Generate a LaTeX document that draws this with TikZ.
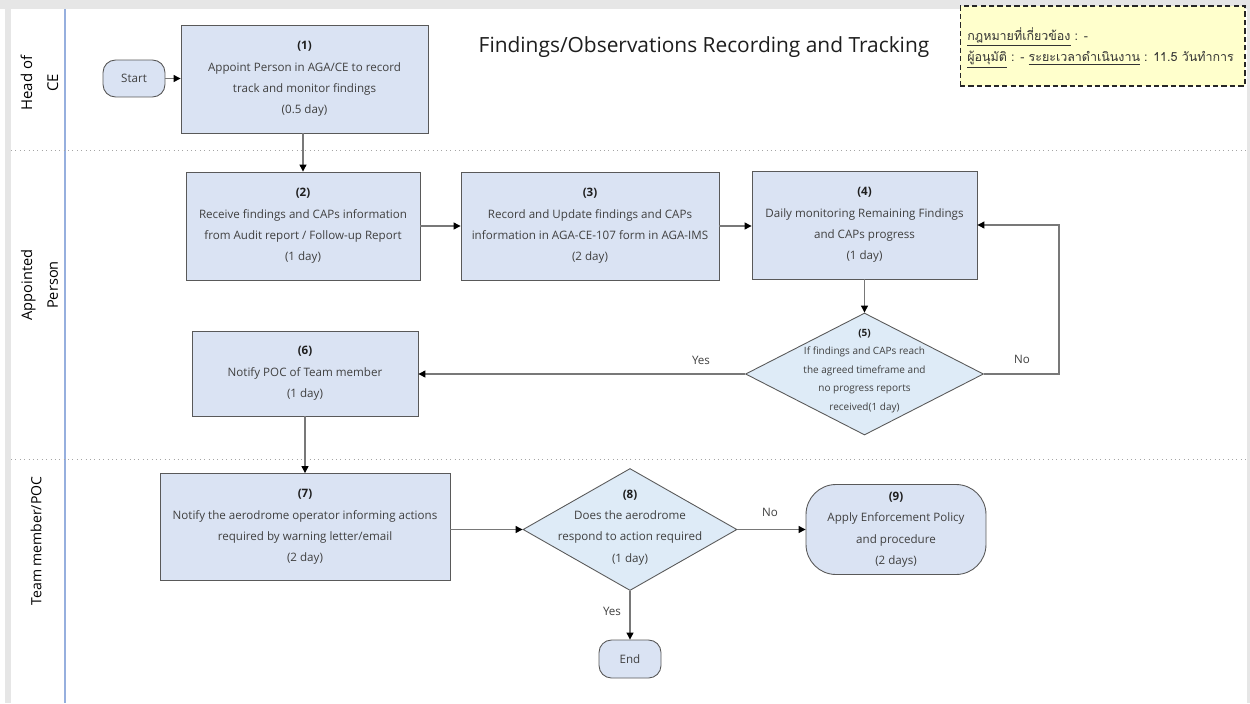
\documentclass[tikz,border=0pt]{standalone}
\usepackage{fontspec}
\setmainfont{Open Sans}
\newfontfamily\thaifont[Script=Thai]{Loma}
\usetikzlibrary{arrows.meta,shapes.geometric}

\definecolor{boxfill}{RGB}{218,227,243}
\definecolor{decfill}{RGB}{222,235,247}
\definecolor{edgecol}{RGB}{89,89,89}
\definecolor{wire}{RGB}{120,120,120}
\definecolor{txt}{RGB}{64,64,64}
\definecolor{numtxt}{RGB}{30,30,30}
\definecolor{framecol}{RGB}{230,230,230}
\definecolor{lanesep}{RGB}{165,165,165}
\definecolor{laneline}{RGB}{150,175,222}
\definecolor{notefill}{RGB}{255,255,204}

\newcommand{\bodysize}{\fontsize{6.6}{12.2}\selectfont}
\newcommand{\num}[1]{\textcolor{numtxt}{\textbf{#1}}}

\tikzset{
  stepbox/.style={draw=edgecol, fill=boxfill, line width=0.5pt, align=center,
    text=txt, font=\bodysize, inner sep=0pt},
  termbox/.style={stepbox, rounded corners=0.25cm},
  decision/.style={draw=edgecol, fill=decfill, line width=0.5pt, diamond, inner sep=0pt},
  dectext/.style={align=center, text=txt, inner sep=0pt},
  flow/.style={draw=wire, line width=0.6pt,
    -{Triangle[length=4pt,width=4pt,color=black,fill=black]}},
  flowlabel/.style={text=txt, font=\fontsize{6.6}{8}\selectfont, inner sep=0pt},
  lanelabel/.style={rotate=90, align=center, text=black, inner sep=0pt},
  notetext/.style={anchor=west, inner sep=0pt, text=black!80, font=\thaifont\fontsize{7.1}{8.5}\selectfont},
}

\begin{document}
\begin{tikzpicture}[x=0.02cm, y=-0.02cm]
  \useasboundingbox (0,0) rectangle (1250,703);
  \fill[white] (0,0) rectangle (1250,703);

  % page frame
  \fill[framecol] (0,0) rectangle (1250,9);
  \fill[framecol] (5,0) rectangle (11,703);
  \fill[framecol] (1247,0) rectangle (1250,703);

  % swimlanes
  \draw[laneline, line width=0.6pt] (65,9) -- (65,703);
  \draw[lanesep, dotted, line width=0.5pt] (11,150) -- (1247,150);
  \draw[lanesep, dotted, line width=0.5pt] (11,459) -- (1247,459);

  \node[lanelabel, font=\fontsize{8.5}{14.7}\selectfont] (laneA) at (39.5,83) {Head of\\CE};
  \node[lanelabel, font=\fontsize{8.3}{14.7}\selectfont] (laneB) at (39.5,285) {Appointed\\Person};
  \node[lanelabel, font=\fontsize{8}{11}\selectfont] (laneC) at (36,541) {Team member/POC};

  % title
  \node[text=numtxt, font=\fontsize{11.9}{14}\selectfont, inner sep=0pt] (title) at (704,47)
    {Findings/Observations Recording and Tracking};

  % note
  \node[draw=black!85, fill=notefill, dashed, dash pattern=on 3pt off 1.8pt, line width=0.6pt,
        minimum width=5.7cm, minimum height=1.6cm, inner sep=0pt] (note) at (1102.5,46) {};
  \node[notetext] (noteA) at (967,37) {\underline{กฎหมายที่เกี่ยวข้อง} : -};
  \node[notetext] (noteB) at (967,60)
    {\underline{ผู้อนุมัติ} : - \underline{ระยะเวลาดำเนินงาน} : 11.5 วันทำการ};

  % steps
  \node[termbox, minimum width=1.24cm, minimum height=0.74cm] (start) at (134,78.5) {Start};
  \node[stepbox, minimum width=4.94cm, minimum height=2.16cm] (b1) at (304.5,79)
    {\num{(1)}\\Appoint Person in AGA/CE to record\\track and monitor findings\\(0.5 day)};
  \node[stepbox, minimum width=4.68cm, minimum height=2.16cm] (b2) at (303,226)
    {\num{(2)}\\Receive findings and CAPs information\\from Audit report / Follow-up Report\\(1 day)};
  \node[stepbox, minimum width=5.16cm, minimum height=2.16cm] (b3) at (590,226)
    {\num{(3)}\\Record and Update findings and CAPs\\information in AGA-CE-107 form in AGA-IMS\\(2 day)};
  \node[stepbox, minimum width=4.5cm, minimum height=2.16cm] (b4) at (864.5,225)
    {\num{(4)}\\Daily monitoring Remaining Findings\\and CAPs progress\\(1 day)};

  \node[decision, minimum width=4.76cm, minimum height=2.44cm] (d5) at (864.5,374) {};
  \node[dectext, font=\fontsize{5.7}{10.5}\selectfont] (t5) at (864.5,371)
    {\num{(5)}\\If findings and CAPs reach\\the agreed timeframe and\\no progress reports\\received(1 day)};

  \node[stepbox, minimum width=4.52cm, minimum height=1.7cm] (b6) at (305,373.5)
    {\num{(6)}\\Notify POC of Team member\\(1 day)};
  \node[stepbox, minimum width=5.8cm, minimum height=2.14cm] (b7) at (305,527)
    {\num{(7)}\\Notify the aerodrome operator informing actions\\required by warning letter/email\\(2 day)};

  \node[decision, minimum width=4.28cm, minimum height=2.44cm] (d8) at (630,529.5) {};
  \node[dectext, font=\fontsize{6.6}{12.1}\selectfont] (t8) at (630,527.5)
    {\num{(8)}\\Does the aerodrome\\respond to action required\\(1 day)};

  \node[stepbox, rounded corners=0.6cm, minimum width=3.6cm, minimum height=1.8cm] (b9) at (896,529.5)
    {\num{(9)}\\Apply Enforcement Policy\\and procedure\\(2 days)};
  \node[termbox, minimum width=1.24cm, minimum height=0.76cm] (end) at (630,659) {End};

  % connectors
  \coordinate (loop) at (1059,225);
  \draw[flow] (start.east) -- (start.east -| b1.west);
  \draw[flow] (b1.south -| b2.north) -- (b2.north);
  \draw[flow] (b2.east) -- (b2.east -| b3.west);
  \draw[flow] (b3.east) -- (b3.east -| b4.west);
  \draw[flow] (b4.south -| d5.north) -- (d5.north);
  \draw[flow] (d5.east) -| (loop) -- (b4.east);
  \draw[flow] (d5.west) -- (d5.west -| b6.east);
  \draw[flow] (b6.south) -- (b6.south |- b7.north);
  \draw[flow] (b7.east |- d8.west) -- (d8.west);
  \draw[flow] (d8.east) -- (d8.east -| b9.west);
  \draw[flow] (d8.south) -- (end.north);

  \node[flowlabel] (lno5) at (1022,359) {No};
  \node[flowlabel] (lyes5) at (701,360) {Yes};
  \node[flowlabel] (lno8) at (770,512) {No};
  \node[flowlabel] (lyes8) at (612,611) {Yes};
\end{tikzpicture}
\end{document}
